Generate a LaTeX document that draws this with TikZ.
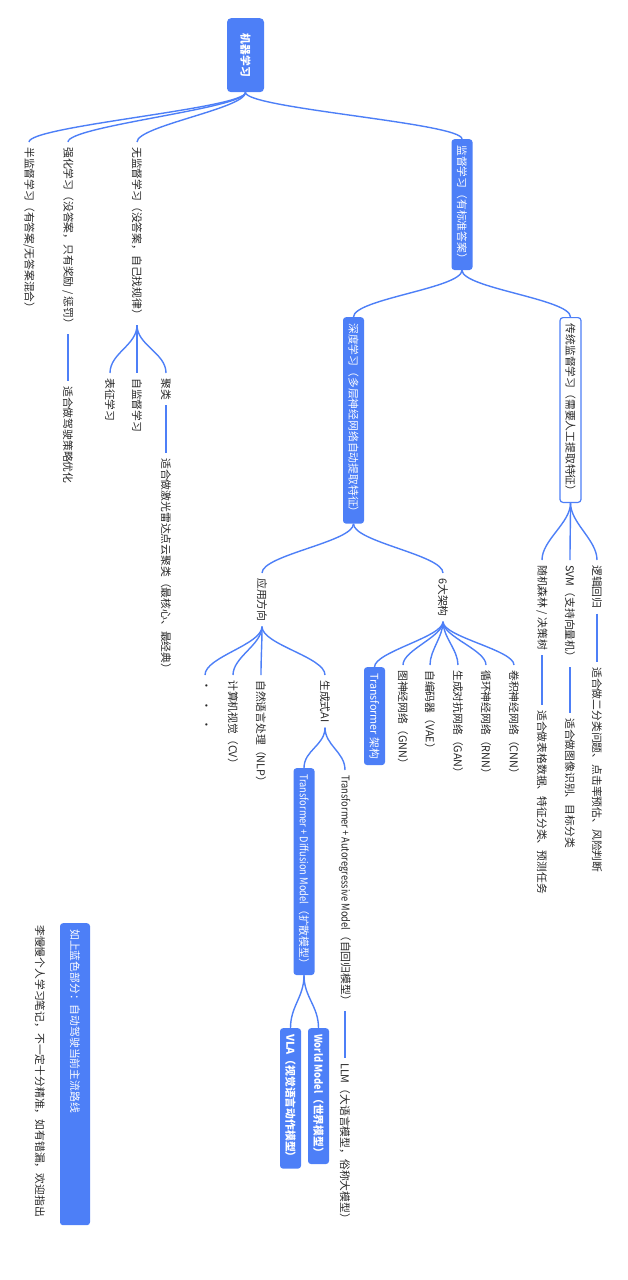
\documentclass[tikz,border=0pt]{standalone}
\usepackage{fontspec}
\setmainfont{Noto Sans CJK SC}
\newfontfamily\narrowlat{Noto Sans CJK SC}[FakeStretch=0.86]
\definecolor{mmblue}{RGB}{77,127,247}
\definecolor{mmtext}{RGB}{38,38,38}
\tikzset{
  txt/.style={rotate=-90,anchor=west,inner xsep=5pt,inner ysep=2pt,text=mmtext},
  bluebox/.style={rotate=-90,anchor=west,fill=mmblue,text=white,rounded corners=3pt,inner xsep=6pt,inner ysep=2pt,minimum height=21pt},
  whitebox/.style={bluebox,fill=white,draw=mmblue,line width=1.2pt,text=mmtext},
  link/.style={draw=mmblue,line width=1.4pt}
}
\begin{document}
\begin{tikzpicture}[x=1pt,y=-1pt,font=\fontsize{10.8}{13}\selectfont]
\useasboundingbox (0,0) rectangle (628,1280);
\node[bluebox,minimum width=74pt,minimum height=37pt,rounded corners=4pt] (ml) at (245.5,18) {\bfseries 机器学习};
\node[txt] (semi) at (29,142) {半监督学习（有答案/无答案混合）};
\node[txt] (rl) at (68,142) {强化学习（没答案，只有奖励 / 惩罚）};
\node[txt] (unsup) at (137,142) {无监督学习（没答案，自己找规律）};
\node[bluebox] (sup) at (462,139) {监督学习（有标准答案）};
\foreach \c in {semi,rl,unsup,sup}
  \draw[link] (ml.east) .. controls +(0,16) and +(0,-16) .. (\c.west);
\node[txt] (rluse) at (68,381) {适合做驾驶策略优化};
\draw[link] (rl.east) -- (rluse.west);
\node[txt] (repr) at (110,373) {表征学习};
\node[txt] (selfsup) at (137,373) {自监督学习};
\node[txt] (clus) at (166,373) {聚类};
\node[txt] (clususe) at (166,453) {适合做激光雷达点云聚类（最核心、最经典）};
\foreach \c in {repr,selfsup,clus}
  \draw[link] (unsup.east) .. controls +(0,20) and +(0,-20) .. (\c.west);
\draw[link] (clus.east) -- (clususe.west);
\node[bluebox] (deep) at (353.5,317) {深度学习（多层神经网络自动提取特征）};
\node[whitebox] (trad) at (570.5,317) {传统监督学习（需要人工提取特征）};
\foreach \c in {deep,trad}
  \draw[link] (sup.east) .. controls +(0,18) and +(0,-18) .. (\c.west);
\node[txt] (rf) at (542,560) {随机森林 / 决策树};
\node[txt] (svm) at (570,560) {SVM（支持向量机）};
\node[txt] (lr) at (597,560) {逻辑回归};
\foreach \c in {rf,svm,lr}
  \draw[link] (trad.east) .. controls +(0,20) and +(0,-20) .. (\c.west);
\node[txt] (rfuse) at (542,705) {适合做表格数据、特征分类、预测任务};
\node[txt] (svmuse) at (570,713) {适合做图像识别、目标分类};
\node[txt] (lruse) at (597,662) {适合做二分类问题、点击率预估、风险判断};
\draw[link] (rf.east) -- (rfuse.west);
\draw[link] (svm.east) -- (svmuse.west);
\draw[link] (lr.east) -- (lruse.west);
\node[txt] (appl) at (262,573) {应用方向};
\node[txt] (arch) at (443,573) {6大架构};
\foreach \c in {appl,arch}
  \draw[link] (deep.east) .. controls +(0,18) and +(0,-18) .. (\c.west);
\node[bluebox] (tf) at (374.5,667) {Transformer 架构};
\node[txt] (gnn) at (403,665) {图神经网络（GNN）};
\node[txt] (vae) at (430,665) {自编码器（VAE）};
\node[txt] (gan) at (458,665) {生成对抗网络（GAN）};
\node[txt] (rnn) at (486,665) {循环神经网络（RNN）};
\node[txt] (cnn) at (514,665) {卷积神经网络（CNN）};
\foreach \c in {tf,gnn,vae,gan,rnn,cnn}
  \draw[link] (arch.east) .. controls +(0,15) and +(0,-15) .. (\c.west);
\node[txt] (more) at (205,675) {·\hspace{9pt}·\hspace{9pt}·};
\node[txt] (cv) at (233,675) {计算机视觉（CV）};
\node[txt] (nlp) at (261,675) {自然语言处理（NLP）};
\node[txt] (gen) at (325,675) {生成式AI};
\foreach \c in {more,cv,nlp,gen}
  \draw[link] (appl.east) .. controls +(0,18) and +(0,-18) .. (\c.west);
\node[bluebox] (diff) at (304,768) {{\narrowlat Transformer + Diffusion Model}（扩散模型）};
\node[txt] (autoreg) at (345,770) {{\narrowlat Transformer + Autoregressive Model}（自回归模型）};
\foreach \c in {diff,autoreg}
  \draw[link] (gen.east) .. controls +(0,18) and +(0,-18) .. (\c.west);
\node[txt] (llm) at (345,1058) {LLM（大语言模型，俗称大模型）};
\draw[link] (autoreg.east) -- (llm.west);
\node[bluebox] (vla) at (290.5,1028) {\bfseries VLA（视觉语言动作模型）};
\node[bluebox] (world) at (318.5,1028) {\bfseries {\narrowlat World Model}（世界模型）};
\foreach \c in {vla,world}
  \draw[link] (diff.east) .. controls +(0,22) and +(0,-22) .. (\c.west);
\node[bluebox,minimum height=30pt,text width=290pt,align=left] (legend) at (75,923) {如上蓝色部分：自动驾驶当前主流路线};
\node[txt] (note) at (40,920) {李慢慢个人学习笔记，不一定十分精准，如有错漏，欢迎指出};
\end{tikzpicture}
\end{document}
